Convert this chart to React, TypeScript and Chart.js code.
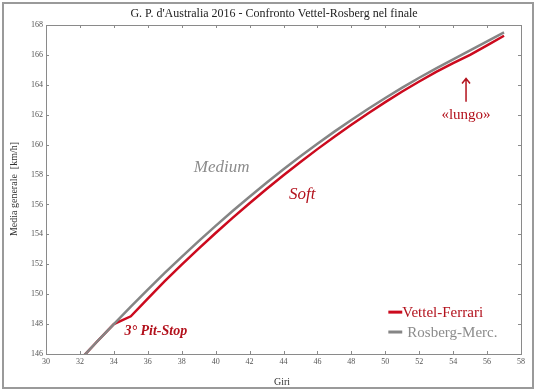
import { useEffect, useRef } from "react";
import { Chart, registerables } from "chart.js";
Chart.register(...registerables);

const laps = [32, 33, 34, 35, 36, 37, 38, 39, 40, 41, 42, 43, 44, 45, 46, 47, 48, 49, 50, 51, 52, 53, 54, 55, 56, 57];
const vettel = [145.6, 146.82, 148.0, 148.52, 149.71, 150.87, 151.98, 153.05, 154.09, 155.1, 156.08, 157.03, 157.95, 158.84, 159.7, 160.53, 161.33, 162.1, 162.84, 163.55, 164.22, 164.87, 165.45, 166.0, 166.64, 167.28];
const rosberg = [145.6, 146.82, 148.0, 149.17, 150.31, 151.42, 152.5, 153.55, 154.57, 155.56, 156.52, 157.45, 158.35, 159.22, 160.06, 160.87, 161.65, 162.4, 163.12, 163.81, 164.47, 165.1, 165.7, 166.3, 166.9, 167.5];
const xTicks = [30, 32, 34, 36, 38, 40, 42, 44, 46, 48, 50, 52, 54, 56, 58];
const yTicks = [146, 148, 150, 152, 154, 156, 158, 160, 162, 164, 166, 168];
const seriesNames = ["Vettel-Ferrari", "Rosberg-Merc."];

const RED = "#cc0a1e";
const RED_TEXT = "#b3121d";
const GRAY = "#858585";
const GRAY_TEXT = "#8c8c8c";
const SERIF = "'Liberation Serif', 'DejaVu Serif', serif";

export default function App() {
  const ref = useRef<HTMLCanvasElement | null>(null);
  useEffect(() => {
    if (!ref.current) return;
    const framePlugin = {
      id: "framePlugin",
      beforeDraw(chart: any) {
        const ctx = chart.ctx;
        ctx.save();
        ctx.fillStyle = "#ffffff";
        ctx.fillRect(0, 0, chart.width, chart.height);
        ctx.strokeStyle = "#9a9a9a";
        ctx.lineWidth = 2;
        ctx.strokeRect(3, 3, chart.width - 6, chart.height - 6);
        ctx.restore();
      },
      afterDraw(chart: any) {
        const ctx = chart.ctx;
        const a = chart.chartArea;
        const xs = chart.scales.x;
        const ys = chart.scales.y;
        ctx.save();
        ctx.strokeStyle = "#8a8a8a";
        ctx.lineWidth = 1;
        ctx.strokeRect(Math.round(a.left) + 0.5, Math.round(a.top) + 0.5, Math.round(a.right - a.left), Math.round(a.bottom - a.top));
        ctx.beginPath();
        const tl = 3;
        xTicks.forEach((v) => {
          const px = Math.round(xs.getPixelForValue(v)) + 0.5;
          ctx.moveTo(px, a.bottom);
          ctx.lineTo(px, a.bottom - tl);
          ctx.moveTo(px, a.top);
          ctx.lineTo(px, a.top + tl);
        });
        yTicks.forEach((v) => {
          const py = Math.round(ys.getPixelForValue(v)) + 0.5;
          ctx.moveTo(a.left, py);
          ctx.lineTo(a.left + tl, py);
          ctx.moveTo(a.right, py);
          ctx.lineTo(a.right - tl, py);
        });
        ctx.stroke();

        ctx.fillStyle = "#222222";
        ctx.textAlign = "center";
        ctx.textBaseline = "middle";
        ctx.font = `12px ${SERIF}`;
        ctx.fillText("G. P. d'Australia 2016 - Confronto Vettel-Rosberg nel finale", 274, 14);
        ctx.font = `10px ${SERIF}`;
        ctx.fillStyle = "#333333";
        ctx.fillText("Giri", 282, 382);
        ctx.save();
        ctx.translate(14, 189);
        ctx.rotate(-Math.PI / 2);
        ctx.fillText("Media generale  [km/h]", 0, 0);
        ctx.restore();

        const P = (x: number, y: number) => [xs.getPixelForValue(x), ys.getPixelForValue(y)];

        ctx.textAlign = "center";
        ctx.font = `italic 17px ${SERIF}`;
        ctx.fillStyle = GRAY_TEXT;
        let [px, py] = P(40.35, 158.47);
        ctx.fillText("Medium", px, py);
        ctx.fillStyle = RED_TEXT;
        [px, py] = P(45.1, 156.67);
        ctx.fillText("Soft", px, py);
        ctx.font = `italic bold 14px ${SERIF}`;
        [px, py] = P(36.47, 147.53);
        ctx.fillText("3° Pit-Stop", px, py);
        ctx.font = `15px ${SERIF}`;
        [px, py] = P(54.76, 162.0);
        ctx.fillText("«lungo»", px, py);
        const [ax, ay0] = P(54.76, 162.87);
        const [, ay1] = P(54.76, 164.42);
        ctx.strokeStyle = RED_TEXT;
        ctx.lineWidth = 1.5;
        ctx.beginPath();
        ctx.moveTo(ax, ay0);
        ctx.lineTo(ax, ay1);
        ctx.moveTo(ax - 4, ay1 + 5);
        ctx.lineTo(ax, ay1);
        ctx.lineTo(ax + 4, ay1 + 5);
        ctx.stroke();

        ctx.textAlign = "left";
        ctx.font = `15px ${SERIF}`;
        const legendRows = [
          { name: seriesNames[0], color: RED, text: RED_TEXT, y: 148.8, x0: 50.18, x1: 51.0, tx: 51.0 },
          { name: seriesNames[1], color: GRAY, text: GRAY_TEXT, y: 147.47, x0: 50.18, x1: 51.0, tx: 51.3 },
        ];
        legendRows.forEach((r) => {
          const [lx0, ly] = P(r.x0, r.y);
          const [lx1] = P(r.x1, r.y);
          const [tx] = P(r.tx, r.y);
          ctx.strokeStyle = r.color;
          ctx.lineWidth = 3;
          ctx.beginPath();
          ctx.moveTo(lx0, ly);
          ctx.lineTo(lx1, ly);
          ctx.stroke();
          ctx.fillStyle = r.text;
          ctx.fillText(r.name, tx, ly + 1);
        });
        ctx.restore();
      },
    };

    const chart = new Chart(ref.current, {
      type: "line",
      data: {
        datasets: [
          {
            label: seriesNames[1],
            data: laps.map((l, i) => ({ x: l, y: rosberg[i] })),
            borderColor: GRAY,
            borderWidth: 2.5,
            pointRadius: 0,
            tension: 0,
            fill: false,
          },
          {
            label: seriesNames[0],
            data: laps.map((l, i) => ({ x: l, y: vettel[i] })),
            borderColor: RED,
            borderWidth: 2.5,
            pointRadius: 0,
            tension: 0,
            fill: false,
          },
        ],
      },
      options: {
        animation: false,
        responsive: false,
        events: [],
        layout: { padding: { top: 25, right: 15, left: 0, bottom: 0 } },
        plugins: { legend: { display: false }, tooltip: { enabled: false }, title: { display: false } },
        scales: {
          x: {
            type: "linear",
            min: 30,
            max: 58,
            afterBuildTicks: (s: any) => { s.ticks = xTicks.map((v) => ({ value: v })); },
            afterFit: (s: any) => { s.height = 37; },
            grid: { display: true, drawOnChartArea: false, drawTicks: false },
            border: { display: false },
            ticks: { autoSkip: false, maxRotation: 0, padding: 3, color: "#555555", font: { family: SERIF, size: 8 } },
          },
          y: {
            type: "linear",
            min: 146,
            max: 168,
            afterBuildTicks: (s: any) => { s.ticks = yTicks.map((v) => ({ value: v })); },
            afterFit: (s: any) => { s.width = 46; },
            grid: { display: true, drawOnChartArea: false, drawTicks: false },
            border: { display: false },
            ticks: { autoSkip: false, padding: 3, color: "#555555", font: { family: SERIF, size: 8 } },
          },
        },
      },
      plugins: [framePlugin],
    } as any);
    return () => chart.destroy();
  }, []);
  return (
    <div style={{ position: "fixed", left: 0, top: 0, width: 536, height: 391 }}>
      <canvas ref={ref} width={536} height={391} style={{ width: 536, height: 391, display: "block" }} />
    </div>
  );
}
